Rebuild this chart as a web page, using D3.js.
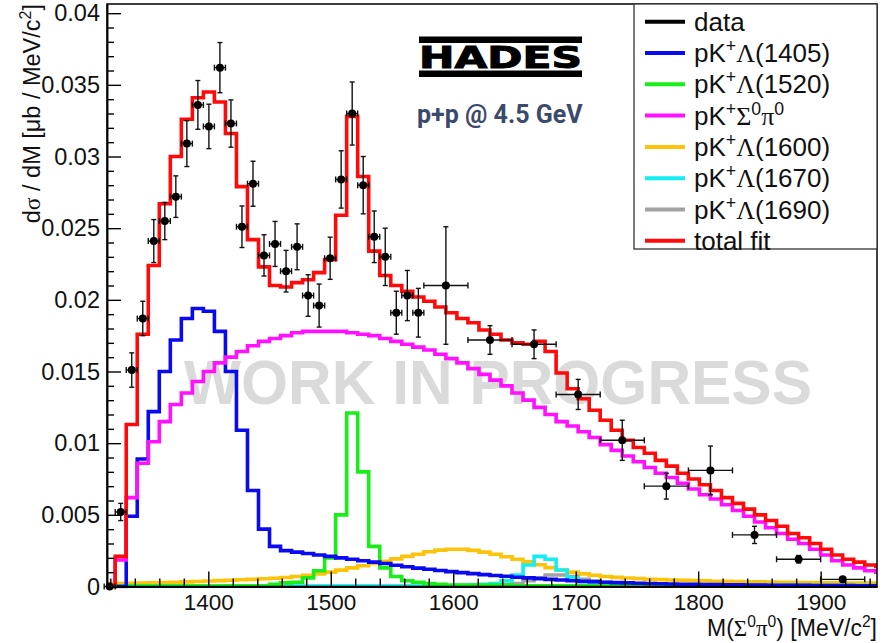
<!DOCTYPE html>
<html><head><meta charset="utf-8">
<script src="https://cdn.jsdelivr.net/npm/d3@7/dist/d3.min.js"></script>
<style>body{margin:0;background:#fff}svg{display:block}</style>
</head><body>
<svg id="c" width="884" height="643"></svg>
<script>
// ---------- data ----------
const binStart = 1315, binWidth = 9;   // fit histograms: 71 bins of 9 MeV
const histBlue = [0,0,0.0049,0.0089,0.0122,0.0150,0.0172,0.0187,0.0194,0.0192,0.0178,0.0150,0.0109,0.0067,0.0040,0.0028,0.0025,0.0024,0.0023,0.0022,0.0021,0.0020,0.0019,0.0018,0.0017,0.0016,0.00148,0.00138,0.00128,0.0012,0.00112,0.00104,0.00097,0.0009,0.00083,0.00077,0.00071,0.00065,0.0006,0.00055,0.0005,0.00045,0.0004,0.00036,0.00033,0.0003,0.00027,0.00025,0.00023,0.00021,0.00019,0.00017,0.00016,0.00015,0.00014,0.00013,0.00012,0.00011,0.0001,0.0001,0.00009,0.00009,0.00008,0.00008,0.00007,0.00007,0.00006,0.00006,0.00005,0.00005,0.00005];
const histGreen = [0.00003,0.00003,0.00003,0.00003,0.00003,0.00003,0.00003,0.00003,0.00003,0.00003,0.00003,0.00005,0.00005,0.00005,0.00005,0.00015,0.00025,0.0003,0.0006,0.0011,0.0020,0.0050,0.0121,0.0080,0.0028,0.0013,0.0007,0.0004,0.0003,0.0002,0.00015,0.0001,0.0001,0.0001,0.0001,0.0001,0.0001,0.00005,0.00005,0.00005,0.00005,0.00005,0.00005,0.00005,0.00005,0.00005,0.00005,0.00005,0.00005,0.00005,0.00005,0.00005,0.00005,0.00005,0.00005,0.00005,0.00005,0.00005,0.00005,0.00005,0.00005,0.00005,0.00005,0.00005,0.00005,0.00005,0.00005,0.00005,0.00005,0.00005,0.00005];
const histMagenta = [0,0.00185,0.0062,0.0086,0.0101,0.0115,0.0127,0.0135,0.0143,0.0150,0.0156,0.0160,0.0164,0.0168,0.0171,0.0173,0.0175,0.0177,0.0178,0.0178,0.0178,0.0178,0.0177,0.0176,0.0175,0.0173,0.0171,0.0169,0.0167,0.0165,0.0162,0.0159,0.0156,0.0152,0.0148,0.0144,0.0140,0.0135,0.0130,0.0125,0.0120,0.0115,0.0112,0.0108,0.0104,0.0099,0.0095,0.0091,0.0087,0.0083,0.0079,0.0076,0.0072,0.0068,0.0064,0.0061,0.0057,0.0053,0.0049,0.0045,0.0041,0.0037,0.0033,0.0030,0.0026,0.0022,0.0018,0.0015,0.0013,0.0011,0.0010];
const histYellow = [0.0002,0.0002,0.00022,0.00024,0.00026,0.00028,0.0003,0.00032,0.00035,0.00038,0.00041,0.00044,0.00047,0.0005,0.00054,0.00058,0.00063,0.0007,0.00078,0.00088,0.001,0.00114,0.0013,0.00145,0.0016,0.00176,0.00193,0.0021,0.00225,0.00242,0.00254,0.0026,0.0026,0.00252,0.0024,0.00225,0.00208,0.0019,0.00172,0.00152,0.00132,0.00115,0.001,0.00088,0.00078,0.0007,0.00064,0.00059,0.00055,0.00051,0.00048,0.00045,0.00043,0.00041,0.00039,0.00037,0.00036,0.00034,0.00033,0.00032,0.00031,0.0003,0.00029,0.00028,0.00027,0.00026,0.00025,0.00024,0.00024,0.00024,0.00024];
const histCyan = [0.00003,0.00003,0.00003,0.00003,0.00003,0.00003,0.00003,0.00003,0.00003,0.00003,0.00003,0.00003,0.00003,0.00003,0.00003,0.00003,0.00003,0.00003,0.00003,0.00003,0.00003,0.00003,0.00003,0.00003,0.00003,0.00003,0.00003,0.00003,0.00003,0.00003,0.00003,0.00005,0.00008,0.0001,0.00015,0.0002,0.0004,0.0008,0.0015,0.0021,0.0019,0.00115,0.0006,0.00035,0.00025,0.0002,0.00015,0.00012,0.00012,0.00012,0.00012,0.00012,0.0001,0.0001,0.0001,0.0001,0.00009,0.00009,0.00009,0.00008,0.00008,0.00008,0.00008,0.00007,0.00007,0.00007,0.00007,0.00006,0.00006,0.00006,0.00006];
const histGray = [0.00002,0.00002,0.00002,0.00002,0.00002,0.00002,0.00002,0.00002,0.00002,0.00002,0.00002,0.00002,0.00002,0.00002,0.00002,0.00002,0.00002,0.00002,0.00002,0.00002,0.00002,0.00002,0.00002,0.00002,0.00002,0.00002,0.00002,0.00002,0.00002,0.00002,0.00002,0.00002,0.00002,0.00002,0.00002,0.0001,0.00015,0.0002,0.0004,0.0006,0.0008,0.0008,0.0007,0.0005,0.0004,0.0003,0.00025,0.0002,0.00017,0.00015,0.00013,0.00012,0.00012,0.00011,0.00011,0.0001,0.0001,0.0001,0.00009,0.00009,0.00009,0.00008,0.00008,0.00008,0.00007,0.00007,0.00007,0.00006,0.00006,0.00006,0.00006];
const histRed = [0,0.0021,0.0113,0.0176,0.0224,0.0267,0.0300,0.0326,0.0341,0.0345,0.0338,0.0316,0.0279,0.0242,0.0223,0.0210,0.0209,0.0212,0.0214,0.0219,0.0228,0.0259,0.0328,0.0286,0.0234,0.0217,0.0210,0.0206,0.0202,0.0199,0.0195,0.0191,0.0187,0.0184,0.0179,0.0176,0.0172,0.0170,0.0169,0.0171,0.0164,0.0149,0.0138,0.0131,0.0123,0.0116,0.0109,0.0102,0.0097,0.0093,0.0088,0.0084,0.0079,0.0075,0.0071,0.0067,0.0062,0.0058,0.0054,0.0050,0.0046,0.0042,0.0037,0.0034,0.0030,0.0026,0.0022,0.0019,0.0017,0.0015,0.0014];

const dataMass = [1319.5,1328.5,1337.5,1346.5,1355.5,1364.5,1373.5,1382.5,1391.5,1400.5,1409.5,1418.5,1427.5,1436.5,1445.5,1454.5,1463.5,1472.5,1481.5,1490.5,1499.5,1508.5,1517.5,1526.5,1535.5,1544.5,1553.5,1562.5,1571.5,1594,1630,1666,1702,1738,1774,1810,1846,1882,1918];
const dataMassErr = [4.5,4.5,4.5,4.5,4.5,4.5,4.5,4.5,4.5,4.5,4.5,4.5,4.5,4.5,4.5,4.5,4.5,4.5,4.5,4.5,4.5,4.5,4.5,4.5,4.5,4.5,4.5,4.5,4.5,18,18,18,18,18,18,18,18,18,18];
const dataValue = [0,0.0052,0.0151,0.0187,0.0241,0.0255,0.0272,0.0309,0.0336,0.0321,0.0362,0.0323,0.0251,0.0281,0.0231,0.0239,0.0220,0.0237,0.0203,0.0196,0.0229,0.0284,0.0330,0.0280,0.0244,0.0230,0.0191,0.0203,0.0191,0.0210,0.0172,0.0169,0.0134,0.0102,0.0070,0.0081,0.0036,0.0019,0.0005];
const dataErr = [0,0.0006,0.0012,0.0012,0.0015,0.0013,0.00145,0.0016,0.0017,0.00155,0.00175,0.00165,0.00145,0.00157,0.00144,0.00157,0.00145,0.0016,0.00145,0.0015,0.00147,0.002,0.0022,0.002,0.0018,0.002,0.0015,0.00175,0.0017,0.0041,0.001,0.001,0.00105,0.0014,0.0009,0.0017,0.0006,0.00026,0.00016];

const xTickValues = [1400,1500,1600,1700,1800,1900];
const yTickValues = [0,0.005,0.01,0.015,0.02,0.025,0.03,0.035,0.04];
const legendLabels = ["data","pK+Λ(1405)","pK+Λ(1520)","pK+Σ0π0","pK+Λ(1600)","pK+Λ(1670)","pK+Λ(1690)","total fit"];

// ---------- styles ----------
const colors = {data:"#000000", blue:"#0a0af0", green:"#18ee18", magenta:"#ff10ff", yellow:"#fbc40a", cyan:"#14eef0", gray:"#a2a2a2", red:"#ff0a0a"};
const series = [
  {vals:histYellow, color:colors.yellow},
  {vals:histGray, color:colors.gray},
  {vals:histCyan, color:colors.cyan},
  {vals:histGreen, color:colors.green},
  {vals:histBlue, color:colors.blue},
  {vals:histMagenta, color:colors.magenta},
  {vals:histRed, color:colors.red}
];
const legendColors = [colors.data, colors.blue, colors.green, colors.magenta, colors.yellow, colors.cyan, colors.gray, colors.red];

const svg = d3.select("#c");
const F = {l:107, r:877, t:4, b:586.5};
const x = d3.scaleLinear().domain([1317.3, 1946]).range([F.l, F.r]);
const y = d3.scaleLinear().domain([0, 0.04064]).range([F.b, F.t]);
const sans = "'Liberation Sans', Arial, Helvetica, sans-serif";
const serif = "'Liberation Serif', 'Times New Roman', serif";

svg.append("defs").append("clipPath").attr("id","clip")
  .append("rect").attr("x",F.l).attr("y",F.t-2).attr("width",F.r-F.l).attr("height",F.b-F.t+4);

// watermark
svg.append("text").attr("x",184).attr("y",404)
  .attr("font-family",sans).attr("font-weight","bold").attr("font-size",63)
  .attr("fill","#dadada").attr("textLength",628).attr("lengthAdjust","spacingAndGlyphs")
  .text("WORK IN PROGRESS");

// histograms
function histPath(vals){
  const pts = [[binStart,0]];
  vals.forEach((v,i)=>{ const lo = binStart + i*binWidth; pts.push([lo,v],[lo+binWidth,v]); });
  pts.push([binStart + vals.length*binWidth, 0]);
  return d3.line().x(d=>x(d[0])).y(d=>y(d[1]))(pts);
}
const gh = svg.append("g").attr("clip-path","url(#clip)");
series.forEach(s=>{
  gh.append("path").attr("d",histPath(s.vals)).attr("fill","none")
    .attr("stroke",s.color).attr("stroke-width",3.6).attr("stroke-linejoin","miter");
});

// data points with error bars
const gd = svg.append("g");
dataMass.forEach((m,i)=>{
  const cx = x(m), cy = y(dataValue[i]);
  const x0 = x(m - dataMassErr[i]), x1 = x(m + dataMassErr[i]);
  const st = "#111";
  gd.append("line").attr("x1",x0).attr("x2",x1).attr("y1",cy).attr("y2",cy).attr("stroke",st).attr("stroke-width",1.4);
  [x0,x1].forEach(xx=> gd.append("line").attr("x1",xx).attr("x2",xx).attr("y1",cy-3).attr("y2",cy+3).attr("stroke",st).attr("stroke-width",1.4));
  if (dataErr[i] > 0){
    const y0 = y(dataValue[i]-dataErr[i]), y1 = y(dataValue[i]+dataErr[i]);
    gd.append("line").attr("x1",cx).attr("x2",cx).attr("y1",y0).attr("y2",y1).attr("stroke",st).attr("stroke-width",1.4);
    [y0,y1].forEach(yy=> gd.append("line").attr("x1",cx-2.5).attr("x2",cx+2.5).attr("y1",yy).attr("y2",yy).attr("stroke",st).attr("stroke-width",1.4));
  }
  gd.append("circle").attr("cx",cx).attr("cy",cy).attr("r",4).attr("fill","#000");
});

// frame
svg.append("rect").attr("x",F.l).attr("y",F.t).attr("width",F.r-F.l).attr("height",F.b-F.t)
  .attr("fill","none").attr("stroke","#000").attr("stroke-width",1.5);

// axes
const fmtY = d => d === 0 ? "0" : String(+d.toFixed(3));
const xMajor = svg.append("g").attr("transform",`translate(0,${F.b})`)
  .call(d3.axisBottom(x).tickValues(xTickValues).tickSize(-15).tickSizeOuter(0).tickPadding(7.5).tickFormat(d3.format("d")));
const xMinor = svg.append("g").attr("transform",`translate(0,${F.b})`)
  .call(d3.axisBottom(x).tickValues(d3.range(1320,1946,20).filter(v=>v%100!==0)).tickSize(-8).tickSizeOuter(0).tickFormat(""));
const yMajor = svg.append("g").attr("transform",`translate(${F.l},0)`)
  .call(d3.axisLeft(y).tickValues(yTickValues).tickSize(-14).tickSizeOuter(0).tickPadding(7).tickFormat(fmtY));
const yMinor = svg.append("g").attr("transform",`translate(${F.l},0)`)
  .call(d3.axisLeft(y).tickValues(d3.range(0,0.0405,0.001).filter((v,i)=>i%5!==0)).tickSize(-7).tickSizeOuter(0).tickFormat(""));
[xMajor,xMinor,yMajor,yMinor].forEach(g=>{
  g.select(".domain").attr("stroke","#000").attr("stroke-width",1.5);
  g.selectAll(".tick line").attr("stroke","#000").attr("stroke-width",1.4);
  g.selectAll("text").attr("font-family",sans).attr("fill","#111");
});
xMajor.selectAll("text").attr("font-size",22.5);
yMajor.selectAll("text").attr("font-size",23.5);

// axis titles
function richText(sel, parts, baseSize){
  parts.forEach(p=>{
    const t = sel.append("tspan").text(p.t);
    if (p.serif) t.attr("font-family",serif);
    if (p.sup){ t.attr("font-size",baseSize*0.68).attr("dy",-baseSize*0.38); }
    if (p.after){ t.attr("dy",baseSize*0.38); }
  });
}
const xt = svg.append("text").attr("x",F.r).attr("y",636).attr("text-anchor","end")
  .attr("font-family",sans).attr("font-size",23).attr("fill","#111");
richText(xt,[{t:"M("},{t:"Σ",serif:true},{t:"0",sup:true},{t:"π",serif:true,after:true},{t:"0",sup:true},{t:") [MeV/c",after:true},{t:"2",sup:true},{t:"]",after:true}],23);

const yt = svg.append("text").attr("transform","translate(40,4) rotate(-90)").attr("text-anchor","end")
  .attr("font-family",sans).attr("font-size",23.5).attr("fill","#111");
richText(yt,[{t:"d"},{t:"σ",serif:true},{t:" / dM [μb / MeV/c"},{t:"2",sup:true},{t:"]",after:true}],23.5);

// legend
const L = {x:634, y:4, w:243, h:245};
svg.append("rect").attr("x",L.x).attr("y",L.y).attr("width",L.w).attr("height",L.h)
  .attr("fill","#fff").attr("stroke","#333").attr("stroke-width",1.3);
legendLabels.forEach((lab,i)=>{
  const cy = 21.7 + i*31.3;
  svg.append("line").attr("x1",645).attr("x2",685).attr("y1",cy).attr("y2",cy)
    .attr("stroke",legendColors[i]).attr("stroke-width",4);
  const t = svg.append("text").attr("x",694).attr("y",cy+9).attr("font-family",sans)
    .attr("font-size",26).attr("fill","#111");
  if (lab.startsWith("pK+")){
    const rest = lab.slice(3);
    const parts = [{t:"pK"},{t:"+",sup:true}];
    if (rest.startsWith("Λ")) parts.push({t:"Λ",serif:true,after:true},{t:rest.slice(1)});
    else parts.push({t:"Σ",serif:true,after:true},{t:"0",sup:true},{t:"π",serif:true,after:true},{t:"0",sup:true});
    richText(t,parts,26);
  } else t.text(lab);
});

// HADES logo
const logo = svg.append("g");
logo.append("rect").attr("x",419).attr("y",36.5).attr("width",163).attr("height",6.5).attr("fill","#000");
logo.append("rect").attr("x",419).attr("y",70.5).attr("width",163).attr("height",6.5).attr("fill","#000");
logo.append("text").attr("x",419).attr("y",68).attr("font-family","'DejaVu Sans', sans-serif")
  .attr("font-weight","bold").attr("font-size",30).attr("textLength",163).attr("lengthAdjust","spacingAndGlyphs")
  .attr("stroke","#000").attr("stroke-width",1).attr("fill","#000").text("HADES");

svg.append("text").attr("x",417).attr("y",123).attr("font-family","Roboto, 'Open Sans', sans-serif")
  .attr("font-weight",700).attr("font-size",25).attr("fill","#3b4a6b").text("p+p @ 4.5 GeV");
</script>
</body></html>
